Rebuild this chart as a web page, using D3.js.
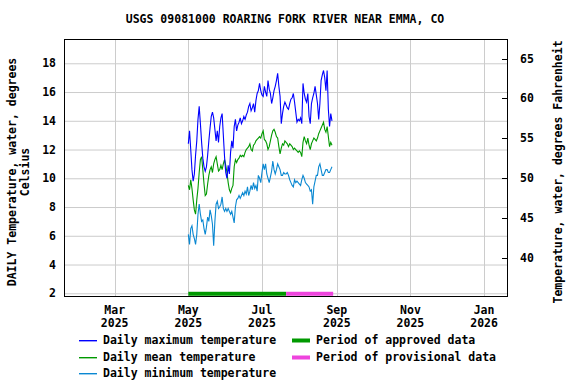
<!DOCTYPE html>
<html>
<head>
<meta charset="utf-8">
<script src="https://cdn.jsdelivr.net/npm/d3@7"></script>
<style>
  body { margin: 0; background: #fff; }
  svg text { font-family: "DejaVu Sans Mono", monospace; font-weight: bold; font-size: 11.5px; fill: #000; }
</style>
</head>
<body>
<svg id="chart" width="576" height="384"></svg>
<script>
// daily values starting 2025-05-01
let startDay = "2025-05-01"

let maxTemp = [12.4, 13.3, 12.0, 10.6, 9.8, 10.3, 11.6, 12.6, 14.1, 15.0,
    13.8, 12.5, 11.4, 10.8, 10.5, 10.8, 11.6, 12.6, 13.5, 14.3,
    14.6, 14.2, 13.4, 12.6, 13.3, 12.5, 13.6, 14.2, 14.5, 13.0,
    11.5, 10.4, 10.0, 10.9, 10.3, 11.8, 12.6, 12.1, 13.6, 14.1,
    13.3, 13.7, 13.9, 14.2, 13.8, 14.0, 14.3, 14.1, 14.4, 14.6,
    15.0, 15.2, 14.7, 14.9, 15.2, 14.6, 15.4, 15.9, 16.1, 16.6,
    16.1, 15.8, 15.7, 16.4, 16.0, 15.7, 16.8, 16.2, 15.9, 15.2,
    15.6, 16.1, 16.4, 16.8, 17.3, 16.4, 15.7, 13.8, 14.5, 15.0,
    15.3, 15.1, 14.9, 14.8, 15.2, 15.5, 15.6, 15.9, 15.3, 14.6,
    13.9, 14.1, 14.0, 14.2, 13.8, 16.6, 15.9, 15.5, 15.3, 15.9,
    14.3, 13.8, 15.2, 15.6, 15.9, 16.4, 15.8, 15.2, 14.1, 15.2,
    16.8, 17.2, 17.5, 17.0, 16.1, 17.5, 14.8, 13.6, 14.5, 14.0]

let meanTemp = [9.5, 9.2, 9.9, 9.3, 8.5, 7.8, 7.5, 8.5, 9.3, 10.4,
    11.3, 11.5, 10.6, 9.6, 8.8, 8.9, 9.6, 10.2, 10.6, 10.8,
    10.4, 11.0, 11.3, 11.5, 11.0, 10.5, 10.6, 10.9, 10.6, 11.0,
    11.3, 10.9, 10.4, 9.7, 9.2, 9.0, 9.3, 9.5, 10.8, 11.3,
    11.1, 11.3, 11.4, 11.6, 11.5, 11.6, 11.5, 11.8, 12.0, 12.1,
    12.2, 12.4, 12.0, 11.9, 12.3, 12.4, 12.6, 12.7, 12.8, 12.9,
    12.8, 13.1, 13.3, 12.7, 12.6, 12.4, 12.0, 12.2, 12.6, 13.0,
    13.3, 13.4, 13.2, 12.9, 12.8, 12.2, 11.7, 12.1, 12.4, 12.3,
    12.6, 12.5, 12.4, 12.2, 12.4, 12.3, 12.2, 12.0, 12.1, 12.0,
    11.9, 11.8, 11.9, 11.8, 11.5, 12.5, 12.9, 12.6, 12.4, 12.8,
    12.3, 12.0, 12.4, 12.6, 12.8, 12.7, 12.6, 12.8, 13.1, 13.3,
    13.5, 13.7, 13.9, 13.4, 13.2, 13.6, 12.9, 12.2, 12.5, 12.3]

let minTemp = [6.1, 5.4, 6.5, 6.7, 6.1, 5.8, 5.4, 6.1, 7.5, 8.2,
    7.5, 7.0, 7.1, 6.5, 6.1, 6.6, 7.3, 7.0, 7.8, 7.4,
    6.8, 5.3, 7.0, 8.2, 8.4, 7.9, 8.0, 8.2, 8.7, 7.9,
    7.7, 7.9, 7.7, 7.9, 7.7, 7.5, 7.7, 7.3, 6.9, 8.0,
    8.5, 8.6, 8.8, 8.6, 8.8, 9.0, 8.8, 9.1, 8.9, 9.4,
    8.8, 9.1, 9.5, 9.2, 9.7, 9.3, 9.5, 9.1, 10.2, 10.0,
    9.7, 10.4, 11.0, 10.6, 11.0, 10.3, 10.0, 9.7, 10.1, 10.5,
    11.2, 10.6, 10.3, 10.6, 11.0, 10.8, 10.6, 10.2, 10.2, 10.4,
    10.3, 10.3, 10.4, 10.2, 9.9, 9.7, 9.5, 9.4, 9.9, 9.7,
    9.8, 9.7, 9.6, 9.5, 9.9, 10.2, 10.0, 9.7, 9.6, 9.5,
    9.4, 9.1, 9.2, 8.2, 9.4, 9.8, 10.2, 10.2, 10.8, 11.0,
    10.6, 10.2, 10.2, 10.4, 10.6, 10.6, 10.4, 10.4, 10.6, 10.8]

let celsiusTicks = [2, 4, 6, 8, 10, 12, 14, 16, 18]
let fahrenheitTicks = [40, 45, 50, 55, 60, 65]
let monthTicks = ["2025-03-01", "2025-05-01", "2025-07-01", "2025-09-01", "2025-11-01", "2026-01-01"]

let approvedPeriod = ["2025-05-01", "2025-07-21"]
let provisionalPeriod = ["2025-07-21", "2025-08-29"]

let seriesNames = ["Daily maximum temperature", "Daily mean temperature", "Daily minimum temperature"]
let seriesColors = ["#0000ff", "#009900", "#0a88d2"]
let periodNames = ["Period of approved data", "Period of provisional data"]
let periodColors = ["#009900", "#ee44dd"]

let parse = d3.utcParse("%Y-%m-%d")
let start = parse(startDay)

function drawChart() {
    let chart = d3.select("#chart")

    let left = 64, right = 507, top = 39, bottom = 296

    let xscale = d3.scaleUtc()
        .domain([parse("2025-01-18"), parse("2026-01-20")])
        .range([left, right])

    let yscale = d3.scaleLinear()
        .domain([1.81, 19.69])
        .range([bottom, top])

    // fahrenheit on the right, same pixels
    let yscaleF = d3.scaleLinear()
        .domain([1.81 * 1.8 + 32, 19.69 * 1.8 + 32])
        .range([bottom, top])

    // grid
    chart.append("g")
        .selectAll("line.hgrid").data(celsiusTicks)
        .enter().append("line")
        .attr("x1", left).attr("x2", right)
        .attr("y1", d => yscale(d) + 0.5).attr("y2", d => yscale(d) + 0.5)
        .attr("stroke", "#cccccc")

    chart.append("g")
        .selectAll("line.vgrid").data(monthTicks)
        .enter().append("line")
        .attr("x1", d => Math.round(xscale(parse(d))) + 0.5)
        .attr("x2", d => Math.round(xscale(parse(d))) + 0.5)
        .attr("y1", top).attr("y2", bottom)
        .attr("stroke", "#cccccc")

    // approval bars
    let periods = [approvedPeriod, provisionalPeriod]
    chart.append("g")
        .selectAll("rect").data(periods)
        .enter().append("rect")
        .attr("x", d => xscale(parse(d[0])))
        .attr("width", d => xscale(parse(d[1])) - xscale(parse(d[0])))
        .attr("y", yscale(2) - 1.5)
        .attr("height", 4)
        .attr("fill", (d, i) => periodColors[i])

    // series lines
    let line = d3.line()
        .x((d, i) => xscale(d3.utcDay.offset(start, i)))
        .y(d => yscale(d))

    let series = [maxTemp, meanTemp, minTemp]
    // draw min first so max sits on top
    ;[2, 1, 0].forEach(function (k) {
        chart.append("path")
            .datum(series[k])
            .attr("d", line)
            .attr("fill", "none")
            .attr("stroke", seriesColors[k])
            .attr("stroke-width", 1.1)
    })

    // frame
    chart.append("rect")
        .attr("x", left + 0.5).attr("y", top + 0.5)
        .attr("width", right - left).attr("height", bottom - top)
        .attr("fill", "none").attr("stroke", "#000")

    // left axis labels
    chart.append("g")
        .selectAll("text").data(celsiusTicks)
        .enter().append("text")
        .attr("x", left - 8)
        .attr("y", d => yscale(d) + 4)
        .attr("text-anchor", "end")
        .text(d => d)

    // right axis: inward ticks + labels
    chart.append("g")
        .selectAll("line").data(fahrenheitTicks)
        .enter().append("line")
        .attr("x1", right - 5).attr("x2", right)
        .attr("y1", d => Math.round(yscaleF(d)) + 0.5)
        .attr("y2", d => Math.round(yscaleF(d)) + 0.5)
        .attr("stroke", "#000")

    chart.append("g")
        .selectAll("text").data(fahrenheitTicks)
        .enter().append("text")
        .attr("x", right + 13)
        .attr("y", d => yscaleF(d) + 4)
        .text(d => d)

    // bottom labels
    let fmtMonth = d3.utcFormat("%b"), fmtYear = d3.utcFormat("%Y")
    let xlab = chart.append("g")
        .selectAll("g").data(monthTicks)
        .enter().append("g")
        .attr("transform", d => "translate(" + xscale(parse(d)) + ",0)")
    xlab.append("text").attr("y", 314).attr("text-anchor", "middle").text(d => fmtMonth(parse(d)))
    xlab.append("text").attr("y", 327).attr("text-anchor", "middle").text(d => fmtYear(parse(d)))

    // title
    chart.append("text")
        .attr("x", 285).attr("y", 23)
        .attr("text-anchor", "middle")
        .text("USGS 09081000 ROARING FORK RIVER NEAR EMMA, CO")

    // axis titles
    let midY = 172
    chart.append("text")
        .attr("transform", "translate(16," + midY + ") rotate(-90)")
        .attr("text-anchor", "middle")
        .text("DAILY Temperature, water, degrees")
    chart.append("text")
        .attr("transform", "translate(29," + midY + ") rotate(-90)")
        .attr("text-anchor", "middle")
        .text("Celsius")
    chart.append("text")
        .attr("transform", "translate(562," + midY + ") rotate(-90)")
        .attr("text-anchor", "middle")
        .text("Temperature, water, degrees Fahrenheit")

    // legend
    let rows = [340, 357, 373]
    let lg = chart.append("g")
    seriesNames.forEach(function (name, i) {
        lg.append("rect")
            .attr("x", 79).attr("width", 18)
            .attr("y", rows[i]).attr("height", 1.4)
            .attr("fill", seriesColors[i])
        lg.append("text").attr("x", 103).attr("y", rows[i] + 4).text(name)
    })
    periodNames.forEach(function (name, i) {
        lg.append("rect")
            .attr("x", 292).attr("width", 18)
            .attr("y", rows[i] - 1.5).attr("height", 4)
            .attr("fill", periodColors[i])
        lg.append("text").attr("x", 316).attr("y", rows[i] + 4).text(name)
    })
}

drawChart()
</script>
</body>
</html>
